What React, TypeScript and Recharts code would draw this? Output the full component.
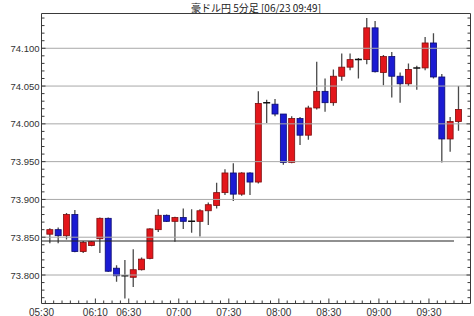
import { Bar, ComposedChart, ReferenceLine, XAxis, YAxis } from "recharts";

// 豪ドル円 5分足
const times = [
  "05:40", "05:45", "05:50", "05:55", "06:00", "06:05", "06:10", "06:15", "06:20", "06:25",
  "06:30", "06:35", "06:40", "06:45", "06:50", "06:55", "07:00", "07:05", "07:10", "07:15",
  "07:20", "07:25", "07:30", "07:35", "07:40", "07:45", "07:50", "07:55", "08:00", "08:05",
  "08:10", "08:15", "08:20", "08:25", "08:30", "08:35", "08:40", "08:45", "08:50", "08:55",
  "09:00", "09:05", "09:10", "09:15", "09:20", "09:25", "09:30", "09:35", "09:40", "09:45",
];
const opens = [
  73.854, 73.86, 73.852, 73.88, 73.831, 73.839, 73.848, 73.875, 73.809, 73.799,
  73.797, 73.807, 73.822, 73.86, 73.879, 73.871, 73.876, 73.871, 73.871, 73.885,
  73.892, 73.909, 73.935, 73.907, 73.935, 73.923, 74.028, 74.026, 74.013, 73.949,
  74.007, 73.985, 74.021, 74.043, 74.028, 74.063, 74.075, 74.085, 74.085, 74.127,
  74.068, 74.089, 74.063, 74.053, 74.074, 74.074, 74.107, 74.062, 73.98, 74.003,
];
const highs = [
  73.862, 73.863, 73.882, 73.886, 73.845, 73.845, 73.876, 73.876, 73.813, 73.82,
  73.834, 73.823, 73.862, 73.887, 73.88, 73.877, 73.888, 73.887, 73.887, 73.896,
  73.922, 73.94, 73.948, 73.936, 73.936, 74.043, 74.032, 74.033, 74.013, 74.01,
  74.009, 74.024, 74.082, 74.06, 74.072, 74.093, 74.093, 74.087, 74.14, 74.136,
  74.091, 74.095, 74.068, 74.08, 74.077, 74.115, 74.12, 74.066, 74.009, 74.05,
];
const lows = [
  73.842, 73.842, 73.847, 73.83, 73.829, 73.838, 73.829, 73.804, 73.791, 73.769,
  73.784, 73.806, 73.821, 73.857, 73.87, 73.844, 73.861, 73.856, 73.851, 73.866,
  73.888, 73.906, 73.898, 73.905, 73.906, 73.921, 74.001, 74.01, 73.946, 73.948,
  73.972, 73.979, 74.019, 74.016, 74.024, 74.057, 74.071, 74.06, 74.079, 74.068,
  74.051, 74.035, 74.028, 74.05, 74.045, 74.071, 74.06, 73.949, 73.963, 73.991,
];
const closes = [
  73.86, 73.852, 73.88, 73.831, 73.843, 73.844, 73.875, 73.805, 73.799, 73.799,
  73.807, 73.821, 73.861, 73.879, 73.871, 73.876, 73.871, 73.871, 73.885, 73.893,
  73.909, 73.935, 73.907, 73.935, 73.923, 74.027, 74.028, 74.013, 73.949, 74.007,
  73.985, 74.021, 74.043, 74.028, 74.063, 74.075, 74.085, 74.085, 74.127, 74.069,
  74.089, 74.063, 74.053, 74.072, 74.074, 74.107, 74.062, 73.98, 74.003, 74.019,
];

const xLabels = ["05:30", "06:10", "06:30", "07:00", "07:30", "08:00", "08:30", "09:00", "09:30"];
const yLabels = [73.8, 73.85, 73.9, 73.95, 74.0, 74.05, 74.1];
const markLevel = 73.845;
const markEnd = "09:45";
const title = "豪ドル円 5分足 [06/23 09:49]";

const toMin = (t: string) => {
  const [h, m] = t.split(":").map(Number);
  return h * 60 + m;
};

const X_MIN = 337.7;
const X_MAX = 594.9;
const Y_MIN = 73.7623;
const Y_MAX = 74.146;

const data = times.map((t, i) => ({
  t: toMin(t) + 2.5,
  open: opens[i],
  high: highs[i],
  low: lows[i],
  close: closes[i],
}));

const labelAt = new Map<number, string>();
xLabels.forEach((l) => labelAt.set(Math.max(toMin(l), X_MIN), l));

const minorX: number[] = [];
for (let m = 340; m <= 590; m += 5) minorX.push(m);
const bottomTicks = [X_MIN, ...minorX];

const minorY: number[] = [];
for (let k = 7377; k <= 7414; k++) minorY.push(k / 100);

const isMajorY = (v: number) => Math.round(v * 1000) % 50 === 0;

const FRAME = "#3a3a3a";
const TXT = "#333";
const FONT = "'Liberation Sans', Arial, sans-serif";

const Candle = (props: any) => {
  const { x, y, width, height, payload } = props;
  const { open, close, high, low } = payload;
  const top = Math.min(y, y + height);
  const h = Math.abs(height);
  const ppu = h / (high - low);
  const yAt = (v: number) => top + (high - v) * ppu;
  const cx = x + width / 2;
  const yo = yAt(open);
  const yc = yAt(close);
  const doji = open === close;
  const up = close > open;
  return (
    <g>
      <line x1={cx} x2={cx} y1={yAt(high)} y2={yAt(low)} stroke="#4a4a4a" strokeWidth={1.3} />
      {doji ? (
        <line x1={x} x2={x + width} y1={yo} y2={yo} stroke="#111" strokeWidth={1.5} />
      ) : (
        <rect
          x={x + 0.5}
          y={Math.min(yo, yc)}
          width={width - 1}
          height={Math.max(Math.abs(yo - yc), 1)}
          fill={up ? "#e3161b" : "#1b1bd3"}
          stroke={up ? "#7d0d0d" : "#0b0b6e"}
          strokeWidth={0.8}
        />
      )}
    </g>
  );
};

const BottomTick = ({ x, y, payload }: any) => {
  const label = labelAt.get(payload.value);
  const major = label !== undefined && payload.value !== X_MIN;
  return (
    <g>
      {payload.value !== X_MIN && (
        <line x1={x} x2={x} y1={y} y2={y - (major ? 5 : 3)} stroke={FRAME} />
      )}
      {label && (
        <text x={x} y={y + 12} textAnchor="middle" fontSize={10} fill={TXT} fontFamily={FONT}>
          {label}
        </text>
      )}
    </g>
  );
};

const TopTick = ({ x, y, payload }: any) => {
  const major = labelAt.has(payload.value);
  return <line x1={x} x2={x} y1={y} y2={y + (major ? 5 : 3)} stroke={FRAME} />;
};

const LeftTick = ({ x, y, payload }: any) => {
  const major = isMajorY(payload.value);
  return (
    <g>
      <line x1={x} x2={x + (major ? 4 : 3)} y1={y} y2={y} stroke={FRAME} />
      {major && (
        <text x={x - 2} y={y + 3.5} textAnchor="end" fontSize={9.5} fill={TXT} fontFamily={FONT}>
          {payload.value.toFixed(3)}
        </text>
      )}
    </g>
  );
};

const RightTick = ({ x, y, payload }: any) => {
  const major = isMajorY(payload.value);
  return <line x1={x} x2={x - (major ? 4 : 3)} y1={y} y2={y} stroke={FRAME} />;
};

export default function App() {
  return (
    <div style={{ position: "absolute", left: 0, top: 0, width: 474, height: 316, background: "#fff" }}>
      <div
        style={{
          position: "absolute",
          left: 41,
          width: 430,
          top: 0,
          textAlign: "center",
          fontSize: 10,
          lineHeight: "normal",
          color: "#222",
          fontFamily: "'Noto Sans CJK JP', sans-serif",
        }}
      >
        {title}
      </div>
      <ComposedChart
        width={474}
        height={316}
        data={data}
        margin={{ top: 0, right: 0, bottom: 0, left: 0 }}
      >
        <XAxis
          xAxisId="main"
          dataKey="t"
          type="number"
          domain={[X_MIN, X_MAX]}
          allowDataOverflow
          ticks={bottomTicks}
          interval={0}
          height={12.5}
          tickSize={0}
          tickMargin={0}
          tickLine={false}
          axisLine={{ stroke: FRAME }}
          tick={<BottomTick />}
        />
        <XAxis
          xAxisId="top"
          orientation="top"
          type="number"
          domain={[X_MIN, X_MAX]}
          allowDataOverflow
          ticks={minorX}
          interval={0}
          height={13.5}
          tickSize={0}
          tickMargin={0}
          tickLine={false}
          axisLine={{ stroke: FRAME }}
          tick={<TopTick />}
        />
        <YAxis
          yAxisId="left"
          type="number"
          domain={[Y_MIN, Y_MAX]}
          allowDataOverflow
          ticks={minorY}
          interval={0}
          width={41.5}
          tickSize={0}
          tickMargin={0}
          tickLine={false}
          axisLine={{ stroke: FRAME }}
          tick={<LeftTick />}
        />
        <YAxis
          yAxisId="right"
          orientation="right"
          type="number"
          domain={[Y_MIN, Y_MAX]}
          allowDataOverflow
          ticks={minorY}
          interval={0}
          width={3.5}
          tickSize={0}
          tickMargin={0}
          tickLine={false}
          axisLine={{ stroke: FRAME }}
          tick={<RightTick />}
        />
        {yLabels.map((v) => (
          <ReferenceLine key={v} xAxisId="main" yAxisId="left" y={v} stroke="#a8a8a8" strokeWidth={1} />
        ))}
        <ReferenceLine
          xAxisId="main"
          yAxisId="left"
          segment={[
            { x: X_MIN, y: markLevel },
            { x: toMin(markEnd), y: markLevel },
          ]}
          stroke="#222"
          strokeWidth={1.2}
        />
        <Bar
          xAxisId="main"
          yAxisId="left"
          dataKey={(d: any) => [d.low, d.high]}
          barSize={7}
          shape={<Candle />}
          isAnimationActive={false}
        />
      </ComposedChart>
    </div>
  );
}
